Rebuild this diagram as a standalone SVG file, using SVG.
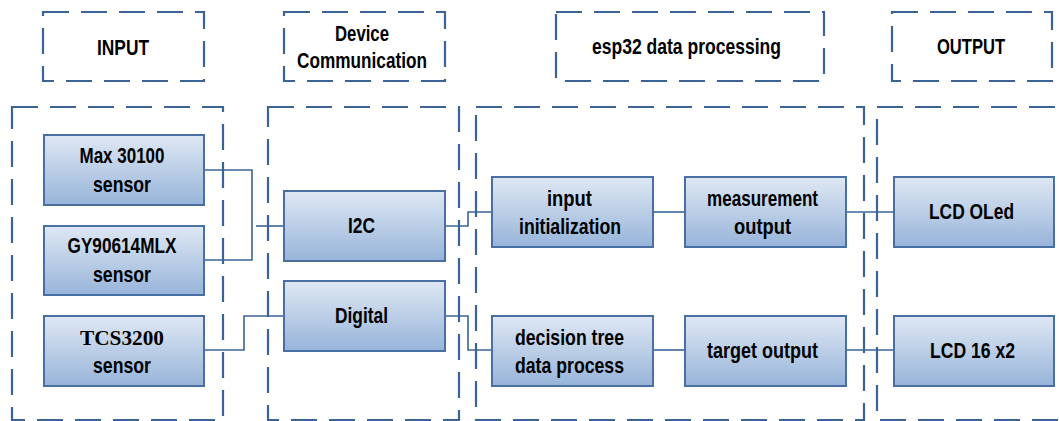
<svg xmlns="http://www.w3.org/2000/svg" width="1059" height="421" viewBox="0 0 1059 421">
<defs>
<linearGradient id="g" x1="0" y1="0" x2="0" y2="1">
<stop offset="0" stop-color="#dfe8f4"/>
<stop offset="1" stop-color="#97b4d9"/>
</linearGradient>
</defs>
<style>
.dash{fill:none;stroke:#3b6398;stroke-width:2.2;stroke-dasharray:26 12}
.box{fill:url(#g);stroke:#4a6fa3;stroke-width:2}
.t{font-family:"Liberation Sans",Arial,sans-serif;font-weight:bold;font-size:21.5px;fill:#000;text-anchor:middle}
.s{font-family:"Liberation Serif","Times New Roman",serif;font-weight:bold;font-size:22px;fill:#000;text-anchor:middle}
.c{fill:none;stroke:#3b6398;stroke-width:1.6}
</style>
<g id="headers">
<g id="h-input"><rect class="dash" x="43" y="12" width="161" height="69"/><text class="t" x="123" y="55" textLength="52" lengthAdjust="spacingAndGlyphs">INPUT</text></g>
<g id="h-device"><rect class="dash" x="284" y="12" width="161" height="69"/><text class="t" x="362" y="41" textLength="54" lengthAdjust="spacingAndGlyphs">Device</text><text class="t" x="362" y="68" textLength="130" lengthAdjust="spacingAndGlyphs">Communication</text></g>
<g id="h-esp32"><rect class="dash" x="556" y="12" width="268" height="69"/><text class="t" x="686.5" y="54" textLength="189" lengthAdjust="spacingAndGlyphs">esp32 data processing</text></g>
<g id="h-output"><rect class="dash" x="892" y="12" width="160" height="69"/><text class="t" x="971" y="54" textLength="68" lengthAdjust="spacingAndGlyphs">OUTPUT</text></g>
</g>
<g id="containers">
<rect id="c-input" class="dash" x="12" y="107" width="211" height="313"/>
<rect id="c-device" class="dash" x="268" y="107" width="191" height="313"/>
<rect id="c-esp32" class="dash" x="476" y="107" width="388" height="313"/>
<rect id="c-output" class="dash" x="877" y="107" width="200" height="313"/>
</g>
<g id="connectors">
<polyline class="c" points="204,170 252,170 252,260 204,260"/>
<line class="c" x1="256" y1="226" x2="284" y2="226"/>
<polyline class="c" points="204,350 244,350 244,316 284,316"/>
<polyline class="c" points="445,226 468,226 468,212 492,212"/>
<polyline class="c" points="445,316 468,316 468,350 492,350"/>
<line class="c" x1="653" y1="212" x2="685" y2="212"/>
<line class="c" x1="846" y1="212" x2="894" y2="212"/>
<line class="c" x1="653" y1="350" x2="685" y2="350"/>
<line class="c" x1="846" y1="350" x2="894" y2="350"/>
</g>
<g id="n-max"><rect class="box" x="44" y="135" width="160" height="70"/><text class="t" x="122" y="163" textLength="85" lengthAdjust="spacingAndGlyphs">Max 30100</text><text class="t" x="122" y="192" textLength="58" lengthAdjust="spacingAndGlyphs">sensor</text></g>
<g id="n-gy"><rect class="box" x="44" y="226" width="160" height="69"/><text class="t" x="122" y="253" textLength="109" lengthAdjust="spacingAndGlyphs">GY90614MLX</text><text class="t" x="122" y="282" textLength="58" lengthAdjust="spacingAndGlyphs">sensor</text></g>
<g id="n-tcs"><rect class="box" x="44" y="316" width="160" height="70"/><text class="s" x="122" y="345" textLength="84" lengthAdjust="spacingAndGlyphs">TCS3200</text><text class="t" x="122" y="373" textLength="58" lengthAdjust="spacingAndGlyphs">sensor</text></g>
<g id="n-i2c"><rect class="box" x="284" y="191" width="161" height="70"/><text class="t" x="361.5" y="233" textLength="27" lengthAdjust="spacingAndGlyphs">I2C</text></g>
<g id="n-digital"><rect class="box" x="284" y="281" width="161" height="70"/><text class="t" x="361.5" y="323" textLength="53" lengthAdjust="spacingAndGlyphs">Digital</text></g>
<g id="n-init"><rect class="box" x="492" y="177" width="161" height="70"/><text class="t" x="569.5" y="206" textLength="45" lengthAdjust="spacingAndGlyphs">input</text><text class="t" x="570" y="234" textLength="102" lengthAdjust="spacingAndGlyphs">initialization</text></g>
<g id="n-meas"><rect class="box" x="685" y="177" width="161" height="70"/><text class="t" x="762.5" y="206" textLength="111" lengthAdjust="spacingAndGlyphs">measurement</text><text class="t" x="762.5" y="234" textLength="57" lengthAdjust="spacingAndGlyphs">output</text></g>
<g id="n-oled"><rect class="box" x="894" y="177" width="160" height="70"/><text class="t" x="971.5" y="219" textLength="85" lengthAdjust="spacingAndGlyphs">LCD OLed</text></g>
<g id="n-tree"><rect class="box" x="492" y="316" width="161" height="70"/><text class="t" x="569.5" y="345" textLength="109" lengthAdjust="spacingAndGlyphs">decision tree</text><text class="t" x="569.5" y="373" textLength="109" lengthAdjust="spacingAndGlyphs">data process</text></g>
<g id="n-target"><rect class="box" x="685" y="316" width="161" height="70"/><text class="t" x="762.5" y="358" textLength="111" lengthAdjust="spacingAndGlyphs">target output</text></g>
<g id="n-lcd16"><rect class="box" x="894" y="316" width="160" height="70"/><text class="t" x="972.5" y="358" textLength="85" lengthAdjust="spacingAndGlyphs">LCD 16 x2</text></g>
</svg>
